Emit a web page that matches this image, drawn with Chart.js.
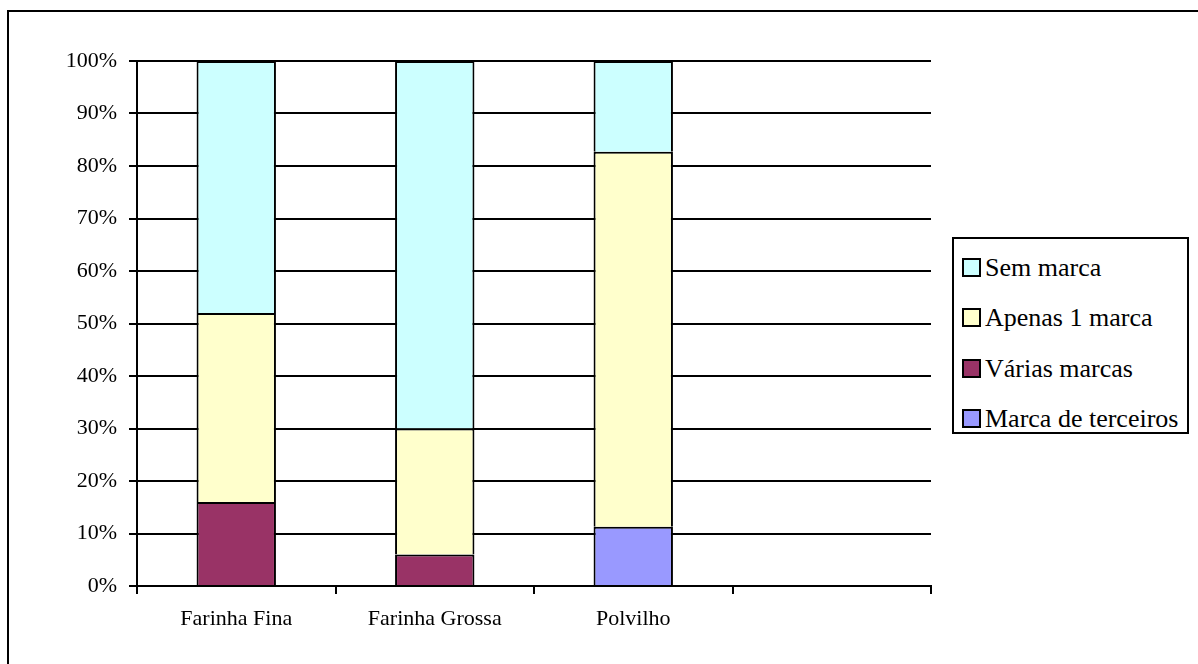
<!DOCTYPE html>
<html>
<head>
<meta charset="utf-8">
<script src="https://cdn.jsdelivr.net/npm/chart.js@4/dist/chart.umd.min.js"></script>
<style>
    html, body { margin: 0; padding: 0; background: #fff; overflow: hidden; }
    #wrap { position: relative; width: 1198px; height: 664px; overflow: hidden; }
    #frame { position: absolute; left: 7px; top: 10px; width: 1300px; height: 800px; border-left: 2px solid #000; border-top: 2px solid #000; }
    #chart { position: absolute; left: 0; top: 0; }
    #legend { position: absolute; left: 952px; top: 237px; width: 233px; height: 193px; border: 2px solid #000; background: #fff;
              font-family: 'Liberation Serif', serif; font-size: 26px; color: #000; }
    .item { position: absolute; left: 8px; height: 28px; line-height: 28px; white-space: nowrap; }
    .box { display: inline-block; width: 15px; height: 15px; border: 2px solid #000; vertical-align: -1px; margin-right: 4px; }
</style>
</head>
<body>
<div id="wrap">
    <div id="frame"></div>
    <canvas id="chart" width="1198" height="664"></canvas>
    <div id="legend"></div>
</div>
<script>
// data (percent of each product)
const categories = ['Farinha Fina', 'Farinha Grossa', 'Polvilho', ''];
const marcaTerceiros = [null, null, 11.3, null];
const variasMarcas = [16, 6, null, null];
const apenasUmaMarca = [36, 24, 71.4, null];
const semMarca = [48, 70, 17.3, null];
const yTicks = [0, 10, 20, 30, 40, 50, 60, 70, 80, 90, 100];

const seriesNames = ['Marca de terceiros', 'Várias marcas', 'Apenas 1 marca', 'Sem marca'];
const seriesColors = ['#9999FF', '#993366', '#FFFFCC', '#CCFFFF'];
const seriesData = [marcaTerceiros, variasMarcas, apenasUmaMarca, semMarca];

const font = { family: "'Liberation Serif', serif", size: 22 };

const datasets = seriesNames.map((name, i) => ({
    label: name,
    data: seriesData[i],
    backgroundColor: seriesColors[i],
    borderColor: '#000',
    borderWidth: 2,
    borderSkipped: 'start',
    barPercentage: 0.4,
    categoryPercentage: 1
}));

new Chart(document.getElementById('chart').getContext('2d'), {
    type: 'bar',
    data: { labels: categories, datasets: datasets },
    options: {
        responsive: false,
        animation: false,
        layout: { padding: { left: 0, top: 61, right: 267, bottom: 0 } },
        plugins: { legend: { display: false }, tooltip: { enabled: false } },
        scales: {
            x: {
                stacked: true,
                offset: true,
                grid: { offset: true, drawOnChartArea: false, color: '#000', lineWidth: 2, tickLength: 8 },
                border: { color: '#000', width: 2 },
                ticks: { color: '#000', font: font, padding: 12, maxRotation: 0 },
                afterFit: scale => { scale.height = 78; }
            },
            y: {
                stacked: true,
                min: 0,
                max: 100,
                afterBuildTicks: scale => { scale.ticks = yTicks.map(v => ({ value: v })); },
                grid: { color: '#000', lineWidth: 2, tickLength: 8 },
                border: { color: '#000', width: 2 },
                ticks: { color: '#000', font: font, padding: 12, callback: v => v + '%' },
                afterFit: scale => { scale.width = 137; }
            }
        }
    }
});

// legend in the reference order (top of stack first)
const legendEl = document.getElementById('legend');
const legendOrder = [3, 2, 1, 0];
legendOrder.forEach((idx, row) => {
    const item = document.createElement('div');
    item.className = 'item';
    item.style.top = (15 + row * 50.4) + 'px';
    const box = document.createElement('span');
    box.className = 'box';
    box.style.background = seriesColors[idx];
    item.appendChild(box);
    item.appendChild(document.createTextNode(seriesNames[idx]));
    legendEl.appendChild(item);
});
</script>
</body>
</html>
